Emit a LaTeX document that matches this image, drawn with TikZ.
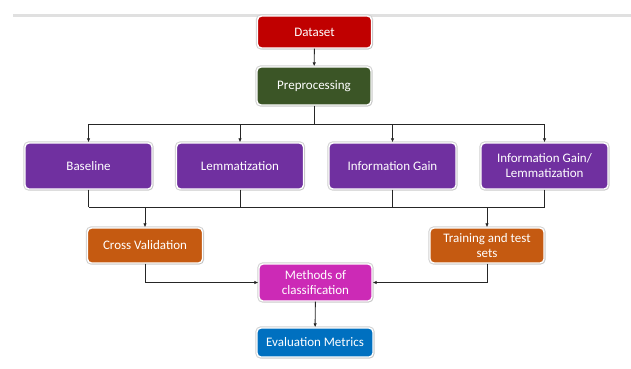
\documentclass[tikz,border=0pt]{standalone}
\usepackage{fontspec}
\setmainfont{Carlito}
\usetikzlibrary{arrows.meta,shadows}
\definecolor{cRed}{HTML}{C00000}
\definecolor{cGreen}{HTML}{3B5526}
\definecolor{cPurple}{HTML}{7030A0}
\definecolor{cOrange}{HTML}{C55A11}
\definecolor{cMagenta}{HTML}{CC2AB6}
\definecolor{cBlue}{HTML}{0070C0}
\tikzset{
  box/.style={rectangle, rounded corners=4pt, draw=white, line width=1.4pt,
    text=white, align=center, inner sep=2pt,
    font=\fontsize{13}{15}\selectfont,
    preaction={draw=black!18, line width=3.4pt},
    drop shadow={opacity=0.25, shadow xshift=1pt, shadow yshift=-1pt}},
  conn/.style={draw=black!85, line width=0.9pt},
  arr/.style={conn, -{Latex[length=4pt,width=3.5pt]}}
}
\begin{document}
\begin{tikzpicture}[x=1pt,y=-1pt]
\useasboundingbox (0,0) rectangle (631,368);
\fill[white] (0,0) rectangle (631,368);
\draw[black!12, line width=3pt] (13,15.5) -- (631,15.5);

\node[box, fill=cRed, minimum width=114pt, minimum height=32pt] (ds) at (314.5,32) {Dataset};
\node[box, fill=cGreen, minimum width=114pt, minimum height=38pt] (pre) at (314,86) {Preprocessing};

\node[box, fill=cPurple, minimum width=127pt, minimum height=46pt] (base) at (88.5,166) {Baseline};
\node[box, fill=cPurple, minimum width=127pt, minimum height=46pt] (lem) at (240,166) {Lemmatization};
\node[box, fill=cPurple, minimum width=127pt, minimum height=46pt] (ig) at (392.5,166) {Information Gain};
\node[box, fill=cPurple, minimum width=127pt, minimum height=46pt] (igl) at (544.5,166) {Information Gain/\\Lemmatization};

\node[box, fill=cOrange, minimum width=115pt, minimum height=35pt] (cv) at (145,245.5) {Cross Validation};
\node[box, fill=cOrange, minimum width=114pt, minimum height=35pt] (tt) at (487,245.5) {Training and test\\sets};

\node[box, fill=cMagenta, minimum width=113pt, minimum height=37pt] (mc) at (315.5,282.5) {Methods of\\classification};
\node[box, fill=cBlue, minimum width=116pt, minimum height=29pt] (ev) at (315,342.5) {Evaluation Metrics};

\coordinate (top) at (0,124);
\coordinate (bot) at (0,207);

\draw[arr] (ds) -- (pre);
\draw[conn] (pre.south) -- (pre.south |- top);
\draw[conn] (base.north |- top) -- (igl.north |- top);
\foreach \n in {base,lem,ig,igl} { \draw[arr] (\n.north |- top) -- (\n.north); }

\foreach \n in {base,lem,ig,igl} { \draw[conn] (\n.south) -- (\n.south |- bot); }
\draw[conn] (base.south |- bot) -- (igl.south |- bot);
\draw[arr] (cv.north |- bot) -- (cv.north);
\draw[arr] (tt.north |- bot) -- (tt.north);

\draw[arr] (cv.south) |- (mc.west);
\draw[arr] (tt.south) |- (mc.east);
\draw[arr] (mc) -- (ev);
\end{tikzpicture}
\end{document}
